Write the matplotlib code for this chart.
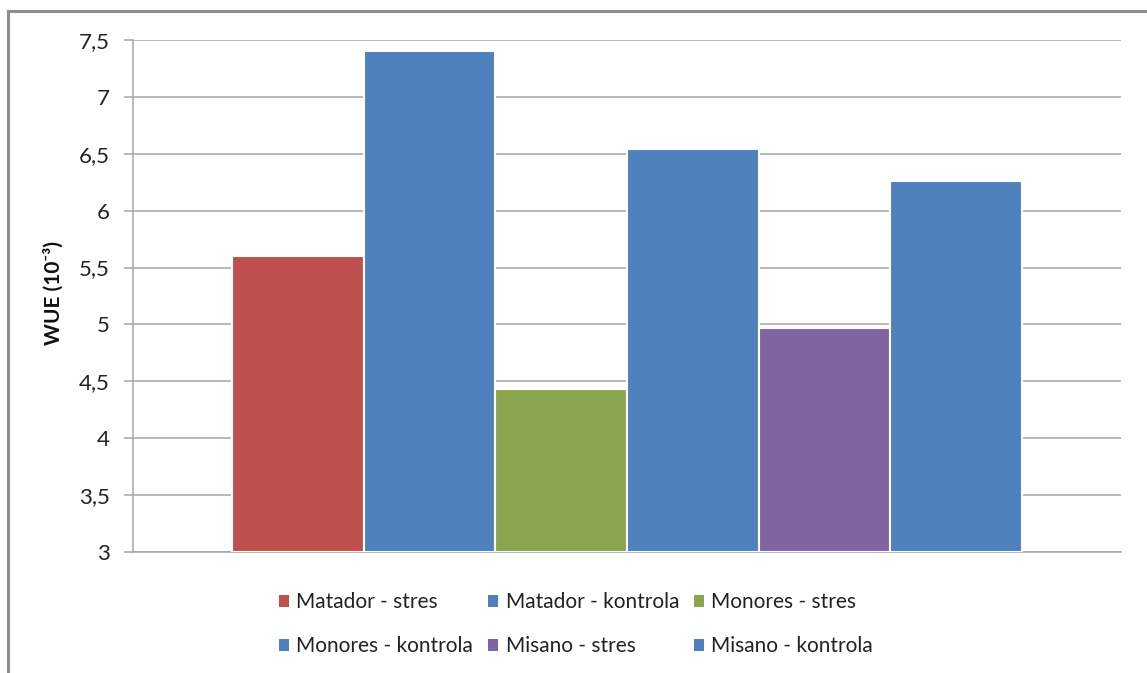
import matplotlib
matplotlib.use("Agg")
import matplotlib.pyplot as plt
from matplotlib.patches import Rectangle, Patch
from matplotlib.ticker import FuncFormatter, MultipleLocator

# Data
series = ["Matador - stres", "Matador - kontrola", "Monores - stres",
          "Monores - kontrola", "Misano - stres", "Misano - kontrola"]
values = [5.60, 7.40, 4.43, 6.54, 4.97, 6.26]
colors = ["#C0504D", "#4F81BD", "#8AA54E", "#4F81BD", "#8064A2", "#4F81BD"]
y_label = "WUE (10\u207b\u00b3)"

plt.rcParams["font.family"] = ["Lato", "DejaVu Sans"]

fig = plt.figure(figsize=(11.47, 6.73), dpi=100)
fig.patch.set_facecolor("white")

# Outer chart frame
fig.patches.append(Rectangle((8 / 1147, -0.1), 1.2, 1 - 11 / 673 + 0.1,
                             transform=fig.transFigure, fill=False,
                             edgecolor="#8c8c8c", linewidth=2.2, zorder=0))

ax = fig.add_axes([133 / 1147, 1 - 552 / 673, (1121 - 133) / 1147, (552 - 40) / 673])

n = len(values)
group = 0.8
w = group / n
xs = [-group / 2 + w * (i + 0.5) for i in range(n)]
ax.bar(xs, [v - 3 for v in values], width=w, bottom=3, color=colors,
       edgecolor="white", linewidth=1.5, zorder=3)

ax.set_xlim(-0.5, 0.5)
ax.set_ylim(3, 7.5)
ax.yaxis.set_major_locator(MultipleLocator(0.5))
ax.yaxis.set_major_formatter(FuncFormatter(lambda v, p: f"{v:g}".replace(".", ",")))
ax.grid(axis="y", color="#a6a6a6", linewidth=1.1, zorder=0)
ax.set_axisbelow(True)
ax.set_xticks([])
for s in ["top", "right"]:
    ax.spines[s].set_visible(False)
for s in ["left", "bottom"]:
    ax.spines[s].set_color("#a6a6a6")
    ax.spines[s].set_linewidth(1.1)
ax.tick_params(axis="y", length=6.5, width=1.1, color="#a6a6a6", labelsize=16,
               labelcolor="#222222", pad=10)

fig.text(53 / 1147, 1 - 293 / 673, y_label, rotation=90, ha="center", va="center",
         fontsize=15, fontweight="bold", color="#111111")

handles = [Patch(facecolor=c, edgecolor="none") for c in colors]
order = [0, 3, 1, 4, 2, 5]
leg = fig.legend([handles[i] for i in order], [series[i] for i in order],
                 ncol=3, loc="center", bbox_to_anchor=(576 / 1147, 1 - 624 / 673),
                 frameon=False, fontsize=15, handlelength=0.5, handleheight=0.5,
                 handletextpad=0.35, columnspacing=0.7, labelspacing=1.15)
for t in leg.get_texts():
    t.set_color("#222222")

fig.savefig("out.png", dpi=100, facecolor="white")
